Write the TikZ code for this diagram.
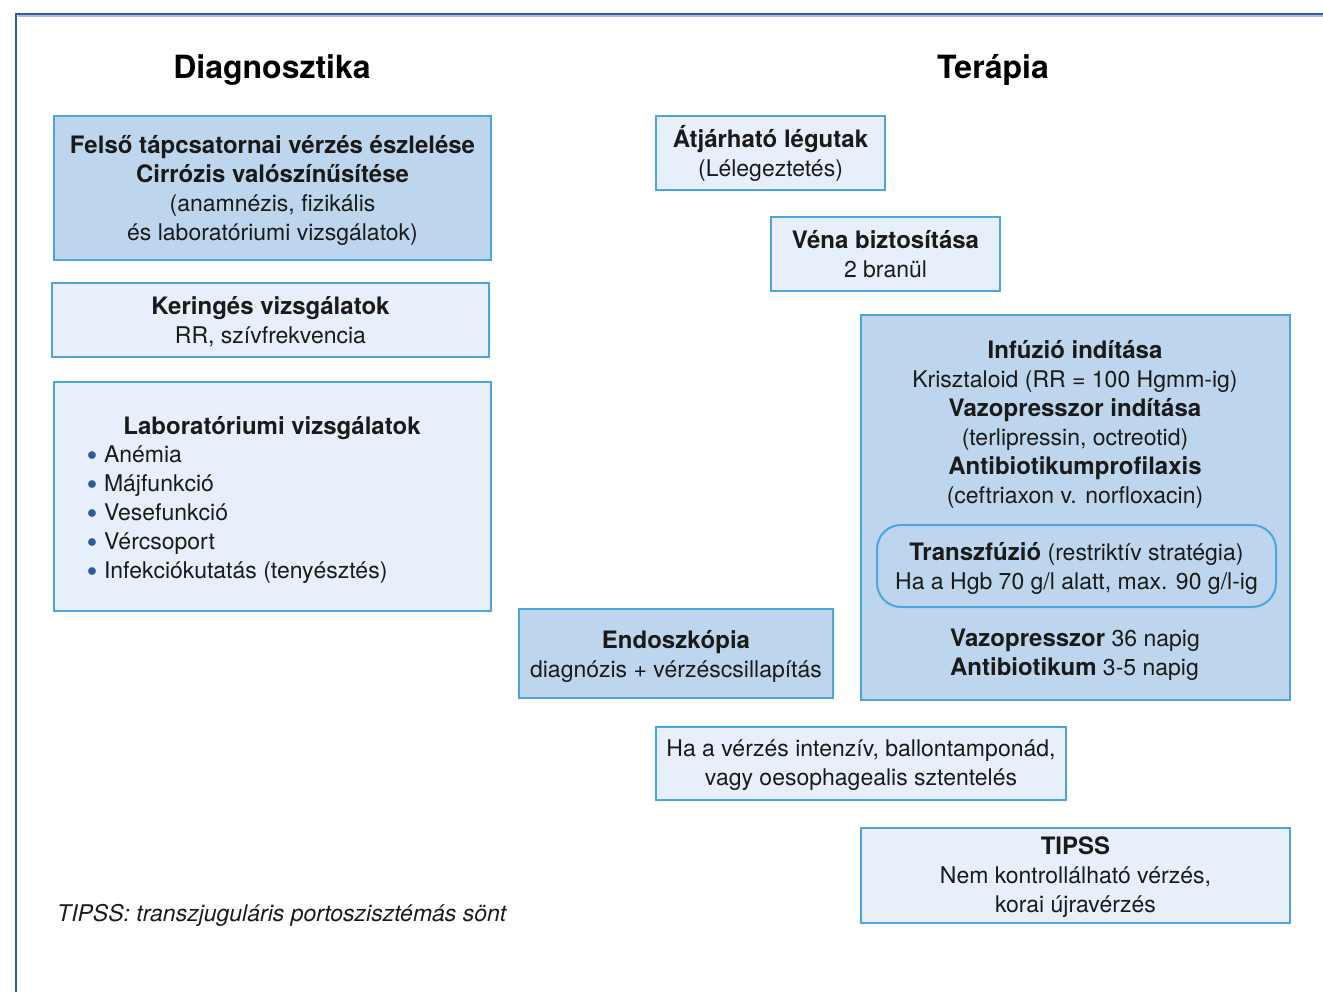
\documentclass[tikz,border=0pt]{standalone}
\usepackage{fontspec}
\setmainfont{TeX Gyre Heros}
\definecolor{dfill}{HTML}{BDD6EE}
\definecolor{lfill}{HTML}{E7F0FA}
\definecolor{bord}{HTML}{4BA6DE}
\definecolor{frame}{HTML}{2F5C9C}
\definecolor{txt}{HTML}{1A1A1A}
\definecolor{bul}{HTML}{2D5A9C}
\tikzset{
  box/.style={draw=bord, line width=2pt, rectangle, inner sep=0pt, align=center, text=txt,
    font=\fontsize{23}{29}\selectfont},
  dbox/.style={box, fill=dfill},
  lbox/.style={box, fill=lfill},
  txtnode/.style={inner sep=0pt, text=txt, font=\fontsize{23}{29}\selectfont},
  title/.style={inner sep=0pt, text=black, font=\fontsize{32}{36}\selectfont\bfseries},
}
\newcommand{\B}[1]{{\fontsize{24}{29}\selectfont\bfseries #1}}
\newcommand{\bu}{\textcolor{bul}{\raisebox{0.12em}{\scalebox{0.8}{$\bullet$}}}\hspace{0.3em}}
\begin{document}
\begin{tikzpicture}[x=1pt,y=-1pt]
\useasboundingbox (0,0) rectangle (1323,992);
% outer frame
\draw[frame!40, line width=1.5pt] (18,16) -- (1323,16);
\draw[frame, line width=1.8pt] (16,992) -- (16,14) -- (1323,14);
% titles
\node[title] (tdiag) at (272,70) {Diagnosztika};
\node[title] (tter) at (993,70) {Terápia};
% left column
\node[dbox, minimum width=437, minimum height=144] (felso) at (272.5,188) {};
\node[txtnode, align=center] (felsot) at (272.5,190)
  {\B{Felső tápcsatornai vérzés észlelése}\\\B{Cirrózis valószínűsítése}\\(anamnézis, fizikális\\és laboratóriumi vizsgálatok)};
\node[lbox, minimum width=437, minimum height=74] (ker) at (270.5,320) {};
\node[txtnode, align=center] (kert) at (270.5,322)
  {\B{Keringés vizsgálatok}\\RR, szívfrekvencia};
\node[lbox, minimum width=437, minimum height=229] (lab) at (272.5,496.5) {};
\node[txtnode, font=\fontsize{24}{29}\selectfont\bfseries] (labt) at (272,428) {Laboratóriumi vizsgálatok};
\node[txtnode, anchor=north west, align=left] (labl) at (87,446)
  {\bu Anémia\\\bu Májfunkció\\\bu Vesefunkció\\\bu Vércsoport\\\bu Infekciókutatás (tenyésztés)};
% right column
\node[lbox, minimum width=229, minimum height=74] (legut) at (770.5,153) {};
\node[txtnode, align=center] (legutt) at (770.5,153)
  {\B{Átjárható légutak}\\(Lélegeztetés)};
\node[lbox, minimum width=229, minimum height=74] (vena) at (885.5,254) {};
\node[txtnode, align=center] (venat) at (885.5,254)
  {\B{Véna biztosítása}\\2 branül};
\node[dbox, minimum width=429, minimum height=385] (inf) at (1075.5,507.5) {};
\node[txtnode, align=center] (inft) at (1075,424)
  {\B{Infúzió indítása}\\Krisztaloid (RR = 100 Hgmm-ig)\\\B{Vazopresszor indítása}\\(terlipressin, octreotid)\\\B{Antibiotikumprofilaxis}\\(ceftriaxon v. norfloxacin)};
\node[dbox, rounded corners=24pt, minimum width=399, minimum height=82] (transz) at (1076.5,566) {};
\node[txtnode, align=center] (transzt) at (1076.5,568)
  {\B{Transzfúzió} (restriktív stratégia)\\Ha a Hgb 70 g/l alatt, max. 90 g/l-ig};
\node[txtnode, align=left] (vazo) at (1075,655)
  {\B{Vazopresszor} 36 napig\\\B{Antibiotikum} 3-5 napig};
\node[dbox, minimum width=314, minimum height=89] (endo) at (676,653.5) {};
\node[txtnode, align=center] (endot) at (676,656.5)
  {\B{Endoszkópia}\\diagnózis + vérzéscsillapítás};
\node[lbox, minimum width=410, minimum height=73] (ballon) at (861,763.5) {};
\node[txtnode, align=center] (ballont) at (861,765.5)
  {Ha a vérzés intenzív, ballontamponád,\\vagy oesophagealis sztentelés};
\node[lbox, minimum width=429, minimum height=95] (tipss) at (1075.5,875.5) {};
\node[txtnode, align=center] (tipsst) at (1075.5,877.5)
  {\B{TIPSS}\\Nem kontrollálható vérzés,\\korai újravérzés};
% footnote
\node[txtnode, anchor=west, font=\fontsize{23}{29}\selectfont\itshape] (foot) at (57,915)
  {TIPSS: transzjuguláris portoszisztémás sönt};
\end{tikzpicture}
\end{document}
